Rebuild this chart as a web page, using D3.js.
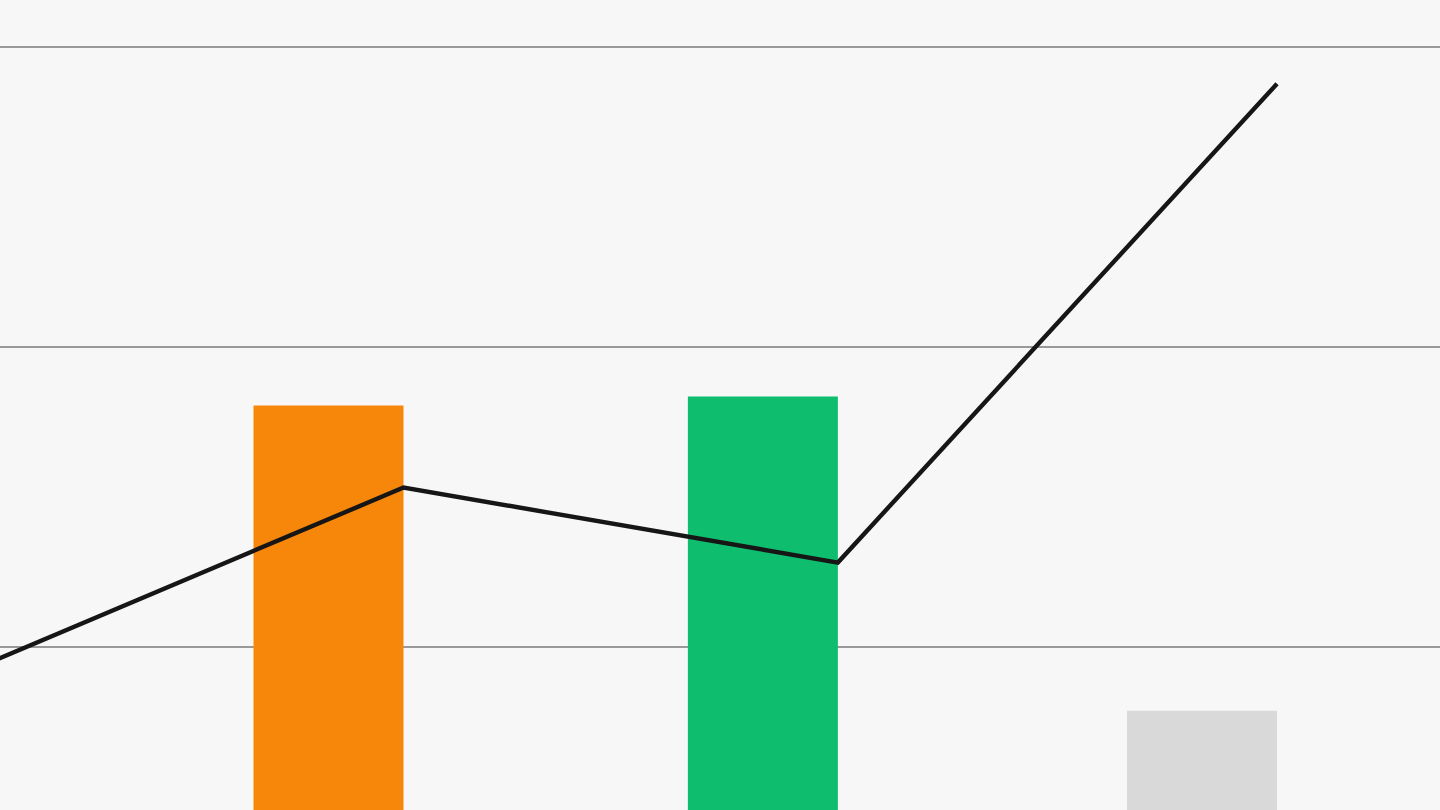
<!DOCTYPE html>
<html>
<head>
<meta charset="utf-8">
<script src="https://cdn.jsdelivr.net/npm/d3@7"></script>
<style>
  html, body { margin: 0; padding: 0; background: #f7f7f7; overflow: hidden; }
  svg { display: block; }
</style>
</head>
<body>
<script>
// Data (quarterly periods; the first one lies off-chart to the left)
const categories = ["2023-01-01", "2023-04-01", "2023-07-01", "2023-10-01"];
const barCategories = ["2023-04-01", "2023-07-01", "2023-10-01"];
const barValues = [36.1, 36.7, 15.75];
const barColors = ["#f7870a", "#0fbd6e", "#d9d9d9"];
const lineValues = [18.53, 30.63, 25.63, 57.55];
const gridTicks = [20, 40, 60];

const W = 1440, H = 810;
const parse = d3.utcParse("%Y-%m-%d");
const svg = d3.select("body").append("svg").attr("width", W).attr("height", H);
svg.append("rect").attr("width", W).attr("height", H).attr("fill", "#f7f7f7");

const barWidth = 150;
const x = d3.scaleUtc()
  .domain([parse(barCategories[0]), parse(barCategories[2])])
  .range([253.5, 1127]);
const y = d3.scaleLinear().domain([0, 60]).range([947, 47]);

// gridlines
svg.append("g").selectAll("line").data(gridTicks).join("line")
  .attr("x1", 0).attr("x2", W)
  .attr("y1", d => y(d)).attr("y2", d => y(d))
  .attr("stroke", "#999999").attr("stroke-width", 2);

// bars
svg.append("g").selectAll("rect").data(barCategories).join("rect")
  .attr("x", d => x(parse(d)))
  .attr("width", barWidth)
  .attr("y", (d, i) => y(barValues[i]))
  .attr("height", (d, i) => y(0) - y(barValues[i]))
  .attr("fill", (d, i) => barColors[i]);

// line at the right edge of each bar
const line = d3.line()
  .x((d, i) => x(parse(categories[i])) + barWidth)
  .y(d => y(d));
svg.append("path")
  .datum(lineValues)
  .attr("d", line)
  .attr("fill", "none")
  .attr("stroke", "#161616")
  .attr("stroke-width", 4.4)
  .attr("stroke-linejoin", "miter");
</script>
</body>
</html>
